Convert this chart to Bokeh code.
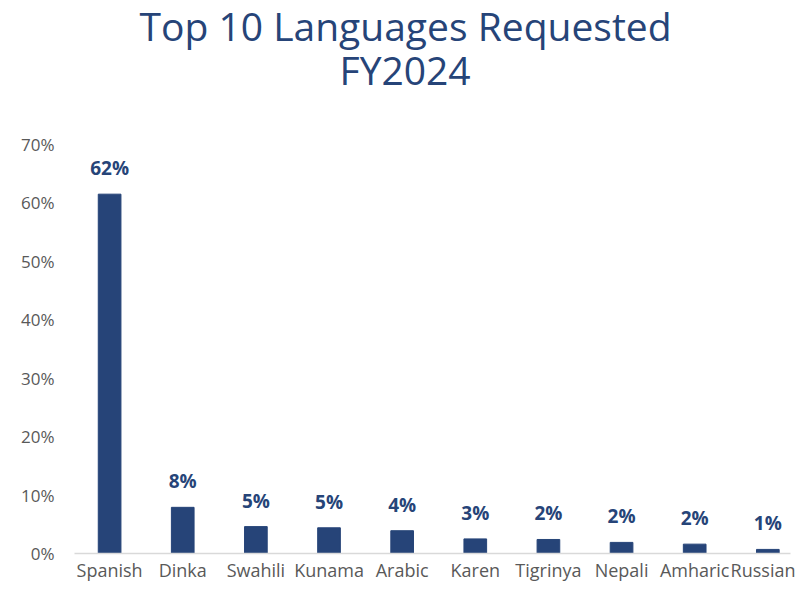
from bokeh.plotting import figure
from bokeh.models import (ColumnDataSource, LabelSet, Title, Range1d, FixedTicker,
                          PrintfTickFormatter)
from bokeh.core.properties import value
from bokeh.embed import file_html
from bokeh.resources import INLINE

languages = ["Spanish", "Dinka", "Swahili", "Kunama", "Arabic", "Karen",
             "Tigrinya", "Nepali", "Amharic", "Russian"]
shares = [61.5, 7.9, 4.6, 4.4, 3.9, 2.5, 2.4, 1.9, 1.6, 0.7]
share_labels = ["62%", "8%", "5%", "5%", "4%", "3%", "2%", "2%", "2%", "1%"]
y_ticks = [0, 10, 20, 30, 40, 50, 60, 70]

BAR = "#264478"
GRAY = "#595959"

idx = list(range(len(languages)))
src = ColumnDataSource(dict(x=idx, top=shares, lab=share_labels))

p = figure(width=795, height=584, output_backend="svg", toolbar_location=None,
           x_range=Range1d(-0.48, 9.31), y_range=Range1d(0, 70),
           min_border_left=74, min_border_right=5, min_border_top=0,
           min_border_bottom=10)
p.outline_line_color = None
p.background_fill_color = "white"
p.border_fill_color = "white"

p.vbar(x="x", top="top", width=0.31, bottom=0, source=src, color=BAR)

p.add_layout(LabelSet(x="x", y="top", text="lab", source=src, text_align="center",
                      text_baseline="bottom", y_offset=13, text_color=BAR,
                      text_font=value("Open Sans"), text_font_style="bold",
                      text_font_size="19px"))

p.xgrid.grid_line_color = None
p.ygrid.grid_line_color = None

p.xaxis.ticker = FixedTicker(ticks=idx)
p.xaxis.major_label_overrides = {i: n for i, n in zip(idx, languages)}
p.xaxis.axis_line_color = "#D9D9D9"
p.xaxis.axis_line_width = 1.5
p.xaxis.major_tick_line_color = None
p.xaxis.major_tick_out = 0
p.xaxis.major_tick_in = 0
p.xaxis.minor_tick_line_color = None
p.xaxis.major_label_text_font = "Open Sans"
p.xaxis.major_label_text_font_size = "18px"
p.xaxis.major_label_text_color = GRAY
p.xaxis.major_label_standoff = 4

p.yaxis.ticker = FixedTicker(ticks=y_ticks)
p.yaxis.formatter = PrintfTickFormatter(format="%d%%")
p.yaxis.axis_line_color = None
p.yaxis.major_tick_line_color = None
p.yaxis.major_tick_out = 0
p.yaxis.major_tick_in = 0
p.yaxis.minor_tick_line_color = None
p.yaxis.major_label_text_font = "Open Sans"
p.yaxis.major_label_text_font_size = "17px"
p.yaxis.major_label_text_color = GRAY
p.yaxis.major_label_standoff = 20

p.add_layout(Title(text=" ", text_font="Open Sans", text_font_size="34px",
                   standoff=8), "above")
p.add_layout(Title(text="FY2024", align="left", text_font="Open Sans",
                   text_font_size="39px", text_font_style="normal",
                   text_color=BAR, standoff=-14, offset=265), "above")
p.add_layout(Title(text="Top 10 Languages Requested", align="left",
                   text_font="Open Sans", text_font_size="39px",
                   text_font_style="normal", text_color=BAR, standoff=-8,
                   offset=65), "above")

open("out.html", "w").write(file_html(p, INLINE))
